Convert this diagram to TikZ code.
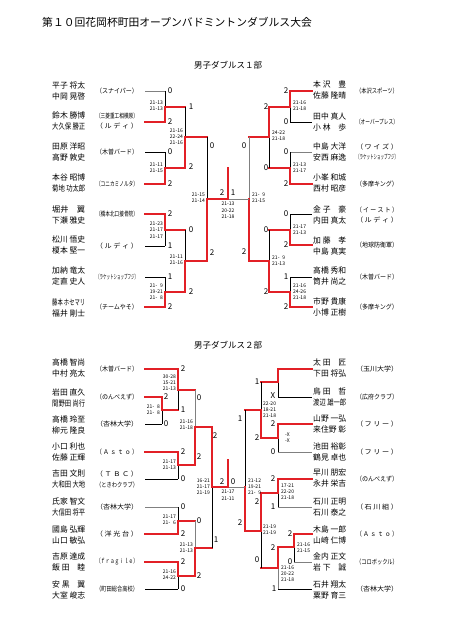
\documentclass[tikz,border=0pt]{standalone}
\usepackage{fontspec}
\usepackage{graphicx}
\setmainfont{Noto Sans CJK JP}
\definecolor{winred}{RGB}{226,32,38}
\newcommand{\nm}[1]{\resizebox{33pt}{\height}{#1}}
\newcommand{\cl}[1]{\resizebox{42pt}{\height}{#1}}
\newcommand{\og}{\hphantom{0}}
% one match: vertical x, top y, middle y, bottom y, end x of winner line, top style, bottom style
\newcommand{\bout}[7]{%
  \draw[#6] (#1,#2) -- (#1,#3);
  \draw[#7] (#1,#3) -- (#1,#4);
  \draw[win] (#1,#3) -- (#5,#3);}
\tikzset{
  win/.style={draw=winred, line width=1.7pt, line cap=rect},
  lose/.style={draw=black, line width=0.7pt},
  dim/.style={draw=black!50, line width=0.9pt},
  pair/.style={anchor=west, align=left, inner sep=0pt, font=\fontsize{8}{10.5}\selectfont},
  club/.style={inner sep=0pt, font=\fontsize{6.5}{8}\selectfont},
  pt/.style={inner sep=0pt, font=\fontsize{8}{9}\selectfont},
  sets/.style={inner sep=0pt, align=left, font=\fontsize{5}{6.2}\selectfont},
}
\begin{document}
\begin{tikzpicture}[x=1pt, y=-1pt]
  \useasboundingbox[fill=white] (0,0) rectangle (452,640);

  % Headings
  \node[anchor=west, inner sep=0pt, font=\fontsize{10.8}{12}\selectfont] (title) at (42,22) {第１０回花岡杯町田オープンバドミントンダブルス大会};
  \node[inner sep=0pt, font=\fontsize{8.5}{10}\selectfont] (div1) at (228,65) {男子ダブルス１部};
  \node[inner sep=0pt, font=\fontsize{8.5}{10}\selectfont] (div2) at (228,345) {男子ダブルス２部};

  % Players
  \foreach \x/\y/\p/\q [count=\i] in {
      52/91/平子 将太/中岡 晃啓, 52/121/鈴木 勝博/大久保 勝正, 52/152/田原 洋昭/高野 敦史,
      52/183/本谷 昭博/菊地 功太郎, 52/215/堀井　翼/下瀬 雅史, 52/245/松川 悟史/榎本 堅一,
      52/276/加納 竜太/定直 史人, 52/308/藤本 ホセマリ/福井 剛士,
      313/90/本 沢　豊/佐藤 隆晴, 313/122/田中 真人/小 林　歩, 313/152/中島 大洋/安西 麻逸,
      313/183/小峯 和城/西村 昭彦, 313/215/金 子　豪/内田 真太, 313/246/加 藤　孝/中島 真実,
      313/276/高橋 秀和/筒井 尚之, 313/307/市野 貴康/小博 正樹,
      52/368/高橋 智尚/中村 亮太, 52/398/岩田 直久/間野田 尚行, 52/425/高橋 玲至/柳元 隆良,
      52/452/小口 利也/佐藤 正輝, 52/479/吉田 文則/大和田 大地, 52/507/氏家 智文/大信田 将平,
      52/535/國島 弘輝/山口 敏弘, 52/562/吉原 達成/飯 田　睦, 52/590/安 黒　翼/大室 峻志,
      313/368/太 田　匠/下田 将弘, 313/397/鳥 田　哲/渡辺 雄一郎, 313/424/山野 一弘/来住野 彰,
      313/452/池田 裕彰/鶴見 卓也, 313/478/早川 朋宏/永井 栄吉, 313/507/石川 正明/石川 泰之,
      313/535/木島 一郎/山崎 仁博, 313/562/金内 正文/岩 下　誠, 313/590/石井 翔太/粟野 育三}
    \node[pair] (pl\i) at (\x,\y) {\nm{\p}\\\nm{\q}};

  % Clubs
  \foreach \x/\y/\t [count=\i] in {
      117/91/（スナイパー）, 117/116/（三菱重工相模原）, 117/126/（ ル デ ィ ）,
      117/152/（木曽バード）, 117/184/（コニカミノルタ）, 117/214/（橋本北口接骨院）,
      117/246/（ ル デ ィ ）, 117/277/（ラケットショップフジ）, 117/307/（チームやそ）,
      377/91/（本沢スポーツ）, 377/122/（オーバープレス）, 377/147/（ ワ イ ズ ）,
      377/157/（ラケットショップフジ）, 377/184/（多摩キング）, 377/210/（ イ ー ス ト ）,
      377/220/（ ル デ ィ ）, 377/245/（地球防衛軍）, 377/277/（木曽バード）, 377/307/（多摩キング）,
      117/369/（木曽バード）, 117/397/（のんべえず）, 117/424/（杏林大学）,
      117/452/（ Ａ ｓ ｔ ｏ ）, 117/474/（ Ｔ Ｂ Ｃ ）, 117/485/（ときわクラブ）,
      117/507/（杏林大学）, 117/534/（ 洋 光 台 ）, 117/562/（ｆｒａｇｉｌｅ）, 117/589/（町田総合高校）,
      377/369/（玉川大学）, 377/397/（広府クラブ）, 377/424/（ フ リ ー ）,
      377/452/（ フ リ ー ）, 377/479/（のんべえず）, 377/507/（ 石 川 組 ）,
      377/534/（ Ａ ｓ ｔ ｏ ）, 377/562/（コロボックル）, 377/589/（杏林大学）}
    \node[club] (cl\i) at (\x,\y) {\cl{\t}};

  % Team lines
  \foreach \a/\b/\y/\s in {
      145/165/91/dim, 145/165/122/win, 145/165/152/lose, 145/165/184/win,
      145/165/214/win, 145/165/246/lose, 145/165/277/lose, 145/165/307/win,
      290/312/91/win, 290/312/122/lose, 290/312/152/dim, 290/312/184/win,
      290/312/214/lose, 290/312/245/win, 290/312/277/lose, 290/312/307/win,
      145/178/369/win, 145/162/397/win, 145/162/424/lose, 145/178/452/win, 145/178/479/lose,
      145/178/507/dim, 145/178/534/win, 145/178/562/win, 145/178/589/lose,
      278/312/369/win, 278/312/397/lose, 278/312/424/win, 278/312/452/dim, 278/312/479/win,
      278/312/507/dim, 294/312/534/win, 294/312/562/dim, 278/312/589/lose}
    \draw[\s] (\a,\y) -- (\b,\y);

  % Division 1, left half
  \bout{165}{91}{107}{122}{185}{lose}{win}
  \bout{165}{152}{168}{184}{185}{lose}{win}
  \bout{165}{214}{230}{246}{185}{win}{lose}
  \bout{165}{277}{292}{307}{185}{lose}{win}
  \bout{185}{107}{137}{168}{207}{lose}{win}
  \bout{185}{230}{261}{292}{207}{lose}{win}
  \bout{207}{137}{199}{261}{228}{lose}{win}
  % Division 1, right half
  \bout{290}{91}{107}{122}{269}{win}{lose}
  \bout{290}{152}{168}{184}{269}{lose}{win}
  \bout{290}{214}{230}{245}{269}{lose}{win}
  \bout{290}{277}{292}{307}{269}{lose}{win}
  \bout{269}{107}{137}{168}{249}{win}{lose}
  \bout{269}{230}{261}{292}{249}{lose}{win}
  \draw[dim] (249,137) -- (249,199);
  \draw[win] (249,199) -- (249,261);
  % Division 1, final
  \draw[dim] (228,199) -- (249,199);
  \draw[win] (228,168) -- (228,199);

  % Division 2, left half
  \bout{162}{397}{410}{424}{178}{win}{lose}
  \bout{178}{369}{390}{410}{195}{win}{lose}
  \bout{178}{452}{465}{479}{195}{win}{lose}
  \bout{195}{390}{427}{465}{212}{dim}{win}
  \bout{178}{507}{521}{534}{195}{lose}{win}
  \bout{178}{562}{576}{589}{195}{win}{lose}
  \bout{195}{521}{548}{576}{212}{dim}{win}
  \bout{212}{427}{487}{548}{228}{win}{lose}
  % Division 2, right half
  \bout{278}{369}{382}{397}{261}{win}{lose}
  \bout{278}{424}{438}{452}{261}{win}{lose}
  \bout{261}{382}{410}{438}{245}{lose}{win}
  \bout{278}{479}{493}{507}{261}{win}{lose}
  \bout{294}{534}{547}{562}{278}{win}{lose}
  \bout{278}{547}{568}{589}{261}{win}{dim}
  \bout{261}{493}{531}{568}{245}{win}{lose}
  \draw[lose] (245,410) -- (245,487);
  \draw[win] (245,487) -- (245,531);
  % Division 2, final
  \draw[dim] (228,487) -- (245,487);
  \draw[win] (228,460) -- (228,487);

  % Games won
  \foreach \x/\y/\t [count=\i] in {
      170/91/0, 170/122/2, 170/152/0, 170/184/2, 170/214/2, 170/246/1, 170/277/1, 170/307/2,
      191/107/1, 191/167/2, 191/230/0, 191/292/2, 212/146/0, 212/253/2, 222/193/2, 233/193/1,
      286/91/2, 286/122/0, 286/152/0, 286/184/2, 286/214/0, 286/245/2, 286/277/1, 286/307/2,
      266/107/2, 266/168/0, 266/230/0, 266/292/2, 244/146/0, 244/252/2,
      183/369/2, 166/397/2, 166/424/0, 183/410/1, 199/398/0, 183/452/2, 183/479/0, 199/457/2,
      215/436/2, 183/507/0, 183/534/2, 199/521/0, 183/562/2, 183/589/0, 199/576/2, 216/540/1,
      222/482/2, 233/482/0,
      273/396/X, 257/382/1, 273/424/2, 273/452/0, 257/438/2, 240/419/1, 273/479/2, 273/507/1,
      257/502/2, 290/534/2, 290/562/0, 273/548/2, 274/589/1, 257/560/0, 240/523/2}
    \node[pt] (g\i) at (\x,\y) {\t};

  % Set scores, left of the line
  \foreach \x/\y/\t [count=\i] in {
      163/106/{21-13\\21-13}, 163/168/{21-11\\21-15}, 163/230/{21-23\\21-17\\21-17},
      163/292/{21-\og9\\19-21\\21-\og8}, 183/137/{21-16\\22-24\\21-16}, 183/260/{21-11\\21-16},
      205/198/{21-15\\21-14},
      160/410/{21-\og8\\21-\og8}, 176/383/{30-28\\15-21\\21-13}, 176/465/{21-17\\21-13},
      193/425/{21-16\\21-18}, 176/520/{21-17\\21-\og6}, 176/575/{21-16\\24-22},
      193/548/{21-13\\21-13}, 210/487/{16-21\\21-17\\21-19}}
    \node[sets, anchor=east] (sl\i) at (\x,\y) {\t};
  % Set scores, right of the line
  \foreach \x/\y/\t [count=\i] in {
      293/106/{21-16\\21-18}, 293/168/{21-13\\21-17}, 293/230/{21-17\\21-13},
      293/292/{21-16\\24-26\\21-18}, 272/136/{24-22\\21-18}, 272/261/{21-\og9\\21-13},
      252/198/{21-\og9\\21-15},
      285/438/{-X\\-X}, 263/410/{22-20\\18-21\\21-18}, 281/492/{17-21\\22-20\\21-18},
      297/548/{21-16\\21-15}, 281/574/{21-16\\20-22\\21-18}, 263/530/{21-19\\21-19},
      248/487/{21-12\\19-21\\21-\og9}}
    \node[sets, anchor=west] (sr\i) at (\x,\y) {\t};
  % Set scores of the finals
  \node[sets, align=center, anchor=north] (f1) at (228,202) {21-13\\20-22\\21-18};
  \node[sets, align=center, anchor=north] (f2) at (228,490) {21-17\\21-11};
\end{tikzpicture}
\end{document}
